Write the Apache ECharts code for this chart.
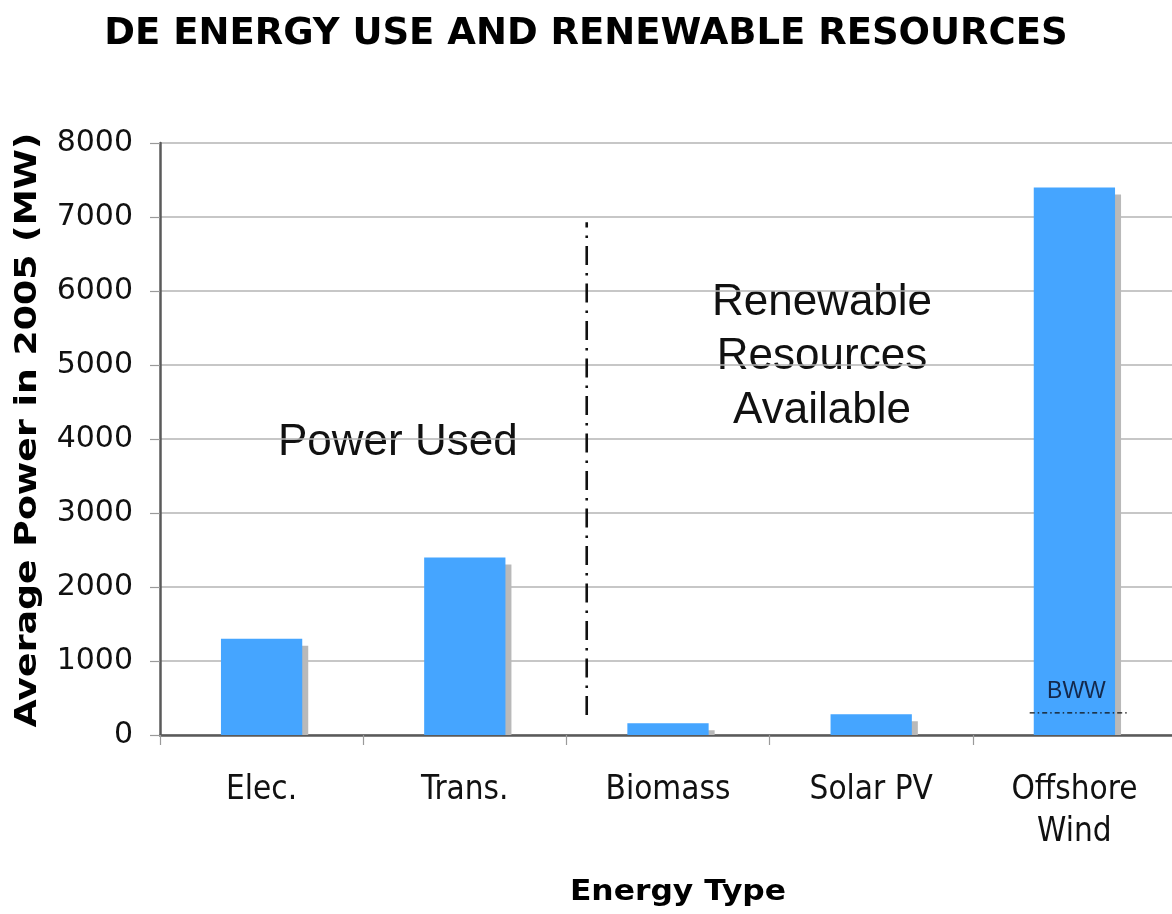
<!DOCTYPE html>
<html>
<head>
<meta charset="utf-8">
<title>DE Energy Use and Renewable Resources</title>
<script src="https://cdn.jsdelivr.net/npm/echarts@6/dist/echarts.min.js"></script>
<style>
  html, body { margin: 0; padding: 0; background: #ffffff; }
  #chart { width: 1172px; height: 914px; }
</style>
</head>
<body>
<div id="chart"></div>
<script>
// Energy categories and average power in 2005 (MW)
const categories = ['Elec.', 'Trans.', 'Biomass', 'Solar PV', 'Offshore\nWind'];
const powerMW = [1300, 2400, 160, 280, 7400];

// Value axis range
const yMin = 0;
const yMax = 8000;
const yInterval = 1000;

// Divider between "power used" and "renewable resources" (category-space x, MW range)
const dividerX = [2.1];
const dividerSpan = [270, 6930];

// BWW reference level on the offshore wind bar (MW) and its category-space extent
const bwwLevel = [300];
const bwwSpan = [4.28, 4.76];
const bwwLabelX = [4.51];

const chart = echarts.init(document.getElementById('chart'), null, { renderer: 'canvas' });

const BAR_FRACTION = 0.4;

const option = {
  backgroundColor: '#ffffff',
  animation: false,
  title: {
    text: 'DE ENERGY USE AND RENEWABLE RESOURCES',
    left: 'center',
    top: 11,
    textStyle: {
      fontFamily: 'DejaVu Sans',
      fontWeight: 'bold',
      fontSize: 37,
      color: '#000000'
    }
  },
  grid: { left: 160, right: -4, top: 143, bottom: 179, outerBoundsMode: 'none', containLabel: false },
  xAxis: [
    {
      type: 'category',
      data: categories,
      axisLine: { lineStyle: { color: '#5a5a5a', width: 2.5 } },
      axisTick: { show: true, length: 10, lineStyle: { color: '#9a9a9a', width: 1.2 } },
      axisLabel: {
        margin: 34,
        fontFamily: 'DejaVu Sans Condensed',
        fontSize: 33,
        lineHeight: 42,
        color: '#111111'
      },
      splitLine: { show: false }
    },
    {
      type: 'value',
      min: 0,
      max: categories.length,
      show: false
    }
  ],
  yAxis: {
    type: 'value',
    min: yMin,
    max: yMax,
    interval: yInterval,
    axisLine: { show: true, lineStyle: { color: '#5a5a5a', width: 2.5 } },
    axisTick: { show: true, length: 10, lineStyle: { color: '#9a9a9a', width: 1.2 } },
    axisLabel: {
      margin: 27,
      fontFamily: 'DejaVu Sans',
      fontSize: 30,
      color: '#111111',
      formatter: v => String(v)
    },
    splitLine: { show: true, lineStyle: { color: '#b4b4b4', width: 1.5 } }
  },
  series: [
    {
      // drop shadow behind each bar, clipped at the baseline
      type: 'custom',
      xAxisIndex: 0,
      z: 1,
      silent: true,
      data: powerMW.map((v, i) => [i, v]),
      renderItem: function (params, api) {
        const top = api.coord([api.value(0), api.value(1)]);
        const base = api.coord([api.value(0), 0]);
        const w = api.size([1, 0])[0] * BAR_FRACTION;
        const dx = 6, dy = 7;
        return {
          type: 'rect',
          shape: {
            x: top[0] - w / 2 + dx,
            y: top[1] + dy,
            width: w,
            height: Math.max(0, base[1] - top[1] - dy)
          },
          style: { fill: '#b9b9b9' }
        };
      }
    },
    {
      type: 'bar',
      xAxisIndex: 0,
      z: 2,
      barWidth: (BAR_FRACTION * 100) + '%',
      data: powerMW,
      itemStyle: { color: '#45a5ff' }
    },
    {
      // dash-dot divider between the two groups
      type: 'custom',
      xAxisIndex: 1,
      z: 3,
      silent: true,
      data: dividerX.map(x => [x, dividerSpan[0], dividerSpan[1]]),
      renderItem: function (params, api) {
        const p1 = api.coord([api.value(0), api.value(1)]);
        const p2 = api.coord([api.value(0), api.value(2)]);
        return {
          type: 'line',
          shape: { x1: p1[0], y1: p1[1], x2: p2[0], y2: p2[1] },
          style: { stroke: '#111111', lineWidth: 2.6, lineDash: [19, 8, 2.5, 8] }
        };
      }
    },
    {
      // BWW level marker on the offshore wind bar
      type: 'custom',
      xAxisIndex: 1,
      z: 4,
      silent: true,
      data: bwwLevel.map((v, i) => [bwwSpan[0], bwwSpan[1], v, bwwLabelX[i]]),
      renderItem: function (params, api) {
        const p1 = api.coord([api.value(0), api.value(2)]);
        const p2 = api.coord([api.value(1), api.value(2)]);
        const pl = api.coord([api.value(3), api.value(2)]);
        return {
          type: 'group',
          children: [
            {
              type: 'line',
              shape: { x1: p1[0], y1: p1[1], x2: p2[0], y2: p2[1] },
              style: { stroke: '#111111', lineWidth: 1.2, lineDash: [5, 3, 1.5, 3] }
            },
            {
              type: 'text',
              x: pl[0],
              y: pl[1] - 10,
              style: {
                text: 'BWW',
                textAlign: 'center',
                textVerticalAlign: 'bottom',
                fontFamily: 'Liberation Sans',
                fontSize: 23,
                fill: '#14284b'
              }
            }
          ]
        };
      }
    }
  ],
  graphic: [
    {
      // y-axis title, set in a wide bold face
      type: 'text',
      x: 28,
      y: 430,
      rotation: Math.PI / 2,
      scaleX: 1.21,
      style: {
        text: 'Average Power in 2005 (MW)',
        textAlign: 'center',
        textVerticalAlign: 'middle',
        fontFamily: 'DejaVu Sans',
        fontWeight: 'bold',
        fontSize: 30,
        fill: '#000000'
      }
    },
    {
      // x-axis title
      type: 'text',
      x: 678,
      y: 893,
      scaleX: 1.12,
      style: {
        text: 'Energy Type',
        textAlign: 'center',
        textVerticalAlign: 'middle',
        fontFamily: 'DejaVu Sans',
        fontWeight: 'bold',
        fontSize: 28,
        fill: '#000000'
      }
    },
    {
      type: 'text',
      left: 278,
      top: 421,
      style: {
        text: 'Power Used',
        fontFamily: 'Liberation Sans',
        fontSize: 44,
        fill: '#111111'
      }
    },
    {
      type: 'text',
      x: 822,
      y: 276,
      style: {
        text: 'Renewable\nResources\nAvailable',
        textAlign: 'center',
        fontFamily: 'Liberation Sans',
        fontSize: 44,
        lineHeight: 54,
        fill: '#111111'
      }
    }
  ]
};

chart.setOption(option);
</script>
</body>
</html>
